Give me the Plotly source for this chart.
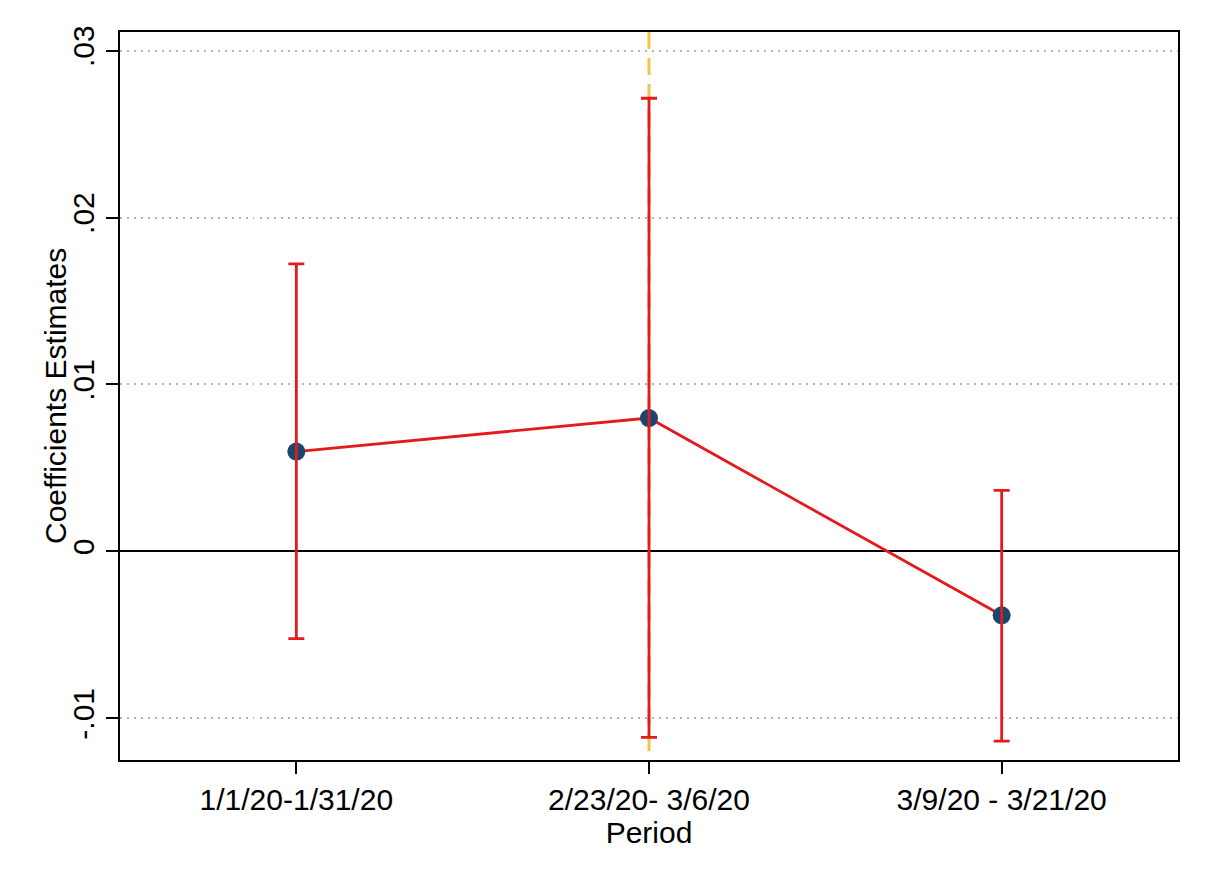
import plotly.graph_objects as go

categories = ["1/1/20-1/31/20", "2/23/20- 3/6/20", "3/9/20 - 3/21/20"]
x_pos = [1, 2, 3]
coef = [0.00598, 0.00799, -0.00383]
ci_upper = [0.01723, 0.02715, 0.00366]
ci_lower = [-0.00523, -0.01114, -0.01137]
y_tickvals = [-0.01, 0, 0.01, 0.02, 0.03]
y_ticktext = ["-.01", "0", ".01", ".02", ".03"]

RED = "#e41a1c"
NAVY = "#1a476f"
ORANGE = "#f2c447"
FONT = "Liberation Sans, Arial, sans-serif"
FS = 30

err_plus = [u - c for u, c in zip(ci_upper, coef)]
err_minus = [c - l for c, l in zip(coef, ci_lower)]

fig = go.Figure()
fig.add_trace(go.Scatter(x=x_pos, y=coef, mode="lines",
                         line=dict(color=RED, width=2.8), showlegend=False, hoverinfo="skip"))
fig.add_trace(go.Scatter(x=x_pos, y=coef, mode="markers",
                         marker=dict(color=NAVY, size=18), showlegend=False))
fig.add_trace(go.Scatter(x=x_pos, y=coef, mode="markers",
                         marker=dict(size=1, opacity=0),
                         error_y=dict(type="data", symmetric=False, array=err_plus,
                                      arrayminus=err_minus, color=RED, thickness=2.8, width=8),
                         showlegend=False, hoverinfo="skip"))

fig.add_shape(type="line", xref="x", yref="paper", x0=2, x1=2, y0=1, y1=0,
              line=dict(color=ORANGE, width=3, dash="17px,9px"), layer="between")

fig.add_annotation(text="Coefficients Estimates", xref="paper", yref="paper",
                   x=0, y=0.5, xanchor="center", yanchor="middle", xshift=-65,
                   textangle=-90, showarrow=False, font=dict(size=FS, family=FONT, color="black"))

fig.update_layout(
    width=1195, height=865,
    margin=dict(l=112, r=25, t=24, b=113),
    paper_bgcolor="white", plot_bgcolor="white",
    font=dict(family=FONT, size=FS, color="black"),
    showlegend=False,
)
fig.update_xaxes(
    range=[0.5, 3.5], tickvals=x_pos, ticktext=categories,
    showgrid=False, zeroline=False,
    showline=True, linecolor="black", linewidth=2, mirror=True,
    ticks="outside", ticklen=12, tickwidth=2, tickcolor="black",
    tickfont=dict(size=FS, family=FONT),
    title=dict(text="Period", font=dict(size=FS, family=FONT), standoff=0),
)
fig.update_yaxes(
    range=[-0.0125, 0.03112], tickvals=y_tickvals, ticktext=y_ticktext,
    tickangle=-90,
    showgrid=True, gridcolor="#b4b4b4", gridwidth=1.5, griddash="1.5px,5.5px",
    zeroline=True, zerolinecolor="black", zerolinewidth=2,
    showline=True, linecolor="black", linewidth=2, mirror=True,
    ticks="outside", ticklen=12, tickwidth=2, tickcolor="black",
    tickfont=dict(size=FS, family=FONT),
)

fig.write_html("out.html")
